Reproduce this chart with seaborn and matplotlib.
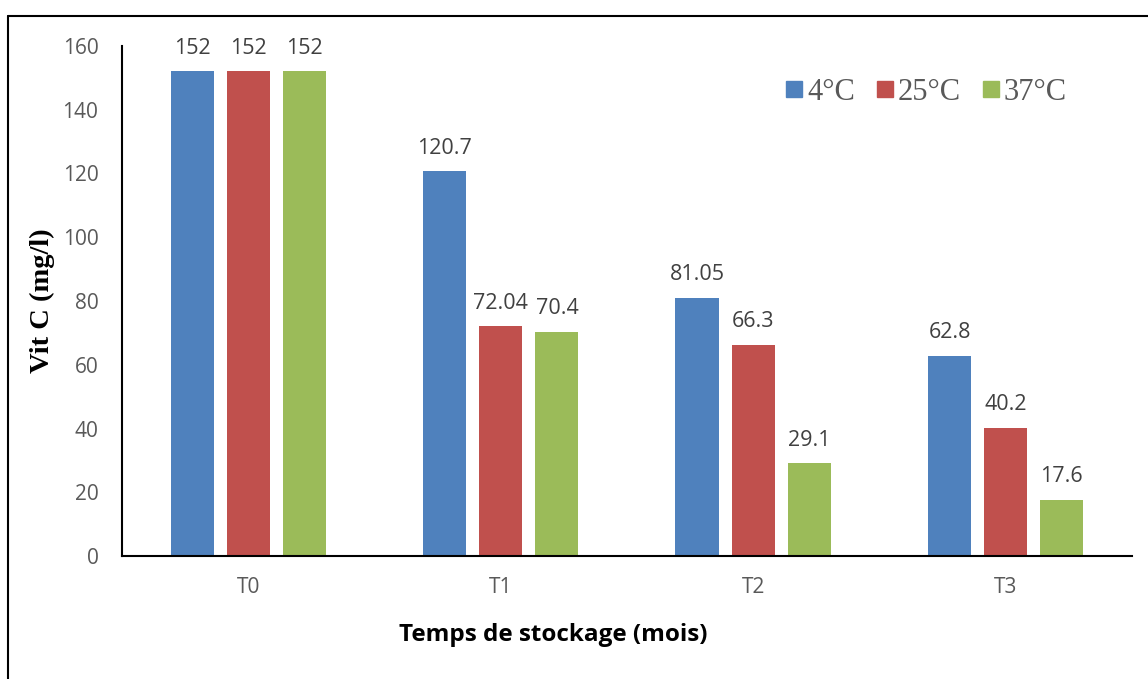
import matplotlib
matplotlib.use("Agg")
import matplotlib.pyplot as plt
from matplotlib.lines import Line2D
import seaborn as sns
import pandas as pd

# Storage times and temperature series
periods = ["T0", "T1", "T2", "T3"]
temperatures = ["4°C", "25°C", "37°C"]
vitc_4 = [152, 120.7, 81.05, 62.8]
vitc_25 = [152, 72.04, 66.3, 40.2]
vitc_37 = [152, 70.4, 29.1, 17.6]
value_labels = {
    "4°C": ["152", "120.7", "81.05", "62.8"],
    "25°C": ["152", "72.04", "66.3", "40.2"],
    "37°C": ["152", "70.4", "29.1", "17.6"],
}
yticks = [0, 20, 40, 60, 80, 100, 120, 140, 160]
colors = ["#4F81BD", "#C0504D", "#9BBB59"]

rows = []
for temp, vals in zip(temperatures, [vitc_4, vitc_25, vitc_37]):
    for p, v in zip(periods, vals):
        rows.append({"Temps": p, "Température": temp, "VitC": v})
df = pd.DataFrame(rows)

sns.set_theme(style="white")
plt.rcParams["font.family"] = ["Open Sans", "DejaVu Sans"]

fig = plt.figure(figsize=(11.48, 6.79), dpi=100)
ax = fig.add_axes([0.1063, 0.1811, 0.8797, 0.7512])

sns.barplot(data=df, x="Temps", y="VitC", hue="Température",
            order=periods, hue_order=temperatures, palette=colors,
            width=0.667, gap=0.23, saturation=1, errorbar=None,
            legend=False, ax=ax, linewidth=0)

ax.set_ylim(0, 160)
ax.set_xlim(-0.5, 3.5)
ax.set_yticks(yticks)
ax.set_yticklabels([str(t) for t in yticks])
ax.tick_params(axis="both", length=0, labelsize=15, colors="#595959")
ax.tick_params(axis="y", pad=17)
ax.tick_params(axis="x", pad=15)

for side in ["top", "right"]:
    ax.spines[side].set_visible(False)
for side in ["left", "bottom"]:
    ax.spines[side].set_visible(True)
    ax.spines[side].set_color("black")
    ax.spines[side].set_linewidth(1.5)

# Value labels above the bars
for container, temp in zip(ax.containers, temperatures):
    ax.bar_label(container, labels=value_labels[temp], padding=9,
                 fontsize=15.5, color="#404040")

ax.set_xlabel("Temps de stockage (mois)", fontsize=17.5, fontweight="bold",
              color="black")
ax.xaxis.set_label_coords(0.427, -0.132)
ax.set_ylabel("Vit C (mg/l)", fontsize=20.5, fontweight="bold", color="black",
              family=["Liberation Serif", "DejaVu Serif"])
ax.yaxis.set_label_coords(-0.066, 0.5)

handles = [Line2D([0], [0], marker="s", linestyle="none", markersize=11,
                  markerfacecolor=c, markeredgecolor=c) for c in colors]
fig.legend(handles, temperatures, loc="center", bbox_to_anchor=(0.807, 0.864),
           ncol=3, frameon=False, prop={"family": "Liberation Serif", "size": 22},
           labelcolor="#595959", handletextpad=0.15, columnspacing=0.7,
           handlelength=0.55)

# Outer frame on the left and top edges
fig.add_artist(Line2D([0.007, 0.007], [0.0, 0.976], transform=fig.transFigure,
                      color="black", linewidth=1.5))
fig.add_artist(Line2D([0.007, 1.0], [0.976, 0.976], transform=fig.transFigure,
                      color="black", linewidth=1.5))

fig.savefig("out.png", dpi=100, facecolor="white")
